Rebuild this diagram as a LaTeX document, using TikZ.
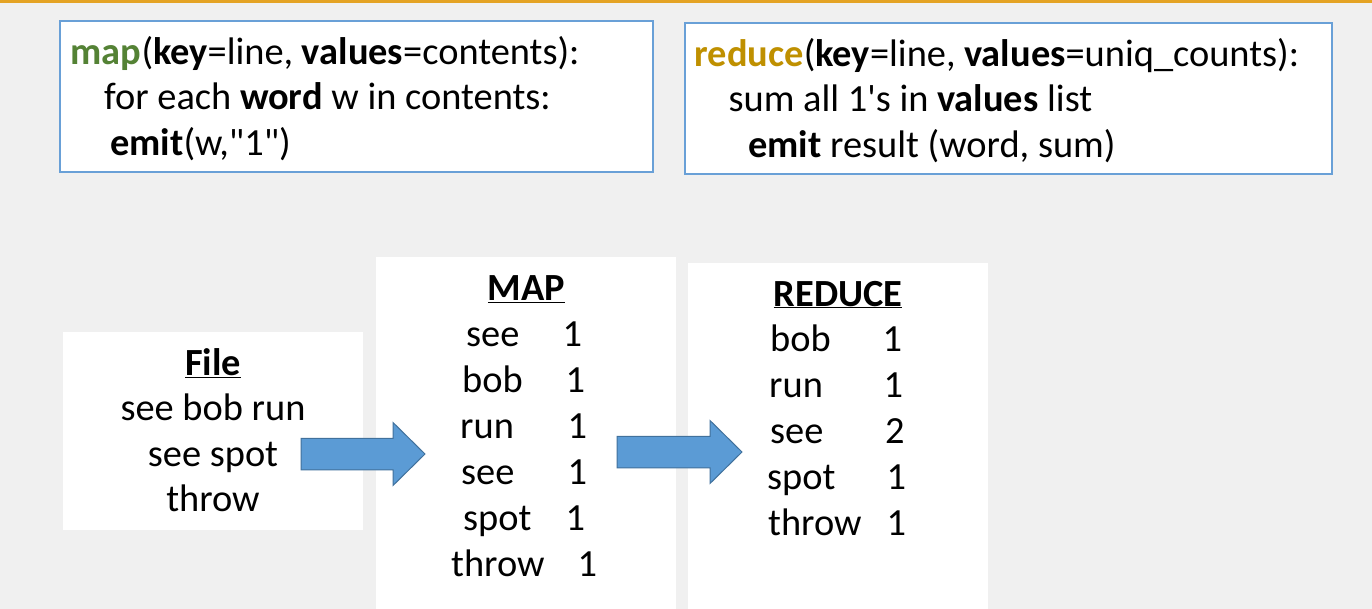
\documentclass[tikz,border=0pt]{standalone}
\usepackage{fontspec}
\setmainfont{Carlito}
\usepackage{tikz}
\usetikzlibrary{calc}

\definecolor{bgGray}{RGB}{240,240,240}
\definecolor{topOrange}{RGB}{228,163,36}
\definecolor{boxBlue}{RGB}{105,160,215}
\definecolor{arrowFill}{RGB}{91,155,213}
\definecolor{arrowEdge}{RGB}{65,113,156}
\definecolor{mapGreen}{RGB}{84,130,53}
\definecolor{reduceGold}{RGB}{191,144,0}

\newcommand{\firstStrut}{\rule{0pt}{32pt}}
\newcommand{\blockArrow}[2]{%
    \draw [arrowBlue] ($(#1)+(0,-15.75)$) -- ($(#2)+(-32,-15.75)$) -- ($(#2)+(-32,-31.5)$) -- (#2)
        -- ($(#2)+(-32,31.5)$) -- ($(#2)+(-32,15.75)$) -- ($(#1)+(0,15.75)$) -- cycle;
}

\begin{document}
\begin{tikzpicture}[
    x=1pt, y=-1pt,
    font=\fontsize{38.4}{45.5}\selectfont,
    codeBox/.style={draw=boxBlue, line width=1.2pt, fill=white, inner sep=0pt},
    listBox/.style={fill=white, inner sep=0pt},
    codeText/.style={anchor=north west, align=left, inner sep=0pt},
    listText/.style={anchor=base west, inner sep=0pt},
    arrowBlue/.style={fill=arrowFill, draw=arrowEdge, line width=1pt}
]
    % Background and top rule
    \fill [bgGray] (0,0) rectangle (1372,609);
    \fill [topOrange] (0,0) rectangle (1372,3.5);
    \useasboundingbox (0,0) rectangle (1372,609);

    % Pseudo-code boxes
    \node [codeBox, minimum width=593, minimum height=151] (mapCode) at (356.5,96.5) {};
    \node [codeBox, minimum width=647, minimum height=151] (reduceCode) at (1008.5,98.5) {};

    \node [codeText] (mapCodeText) at (70.5,32) {\firstStrut\textcolor{mapGreen}{\textbf{map}}(\textbf{key}=line, \textbf{values}=contents):\\\hspace*{33.5pt}for each \textbf{word} w in contents:\\\hspace*{39.5pt}\textbf{emit}(w,\textquotedbl 1\textquotedbl)};
    \node [codeText] (reduceCodeText) at (694.5,34) {\firstStrut\textcolor{reduceGold}{\textbf{reduce}}(\textbf{key}=line, \textbf{values}=uniq\_counts):\\\hspace*{34pt}sum all 1\textquotesingle s in \textbf{values} list\\\hspace*{53.5pt}\textbf{emit} result (word, sum)};

    % Word count boxes
    \node [listBox, minimum width=300, minimum height=198] (fileBox) at (213,431) {};
    \node [listBox, minimum width=300, minimum height=352] (mapBox) at (526,433) {};
    \node [listBox, minimum width=300, minimum height=346] (reduceBox) at (838,436) {};

    % File contents
    \node [anchor=north, align=center, inner sep=0pt] (fileText) at (213,343) {\firstStrut\textbf{\underline{File}}\\see bob run\\see spot\\throw};

    % Map output
    \node [anchor=base, inner sep=0pt] (mapTitle) at (526.5,301) {\textbf{\underline{MAP}}};
    \foreach \row/\word/\wx/\nx in {0/see/466/562.5, 1/bob/462/565.5, 2/run/460/567.5, 3/see/461/567.5, 4/spot/463/565.5, 5/throw/451/577.5} {
        \node [listText] (mapWord\row) at (\wx, 346+46*\row) {\word};
        \node [listText] (mapCount\row) at (\nx, 346+46*\row) {1};
    }

    % Reduce output
    \node [anchor=base, inner sep=0pt] (reduceTitle) at (838,306) {\textbf{\underline{REDUCE}}};
    \foreach \row/\word/\wx/\nx/\count in {0/bob/770/882.5/1, 1/run/769/883.5/1, 2/see/770/885/2, 3/spot/767/886.5/1, 4/throw/768/886.5/1} {
        \node [listText] (reduceWord\row) at (\wx, 351+46*\row) {\word};
        \node [listText] (reduceCount\row) at (\nx, 351+46*\row) {\count};
    }

    % Block arrows
    \coordinate (fileOut) at (301,454);
    \coordinate (mapIn) at (425,454);
    \coordinate (mapOut) at (617,452);
    \coordinate (reduceIn) at (742,452);
    \blockArrow{fileOut}{mapIn}
    \blockArrow{mapOut}{reduceIn}
\end{tikzpicture}
\end{document}
